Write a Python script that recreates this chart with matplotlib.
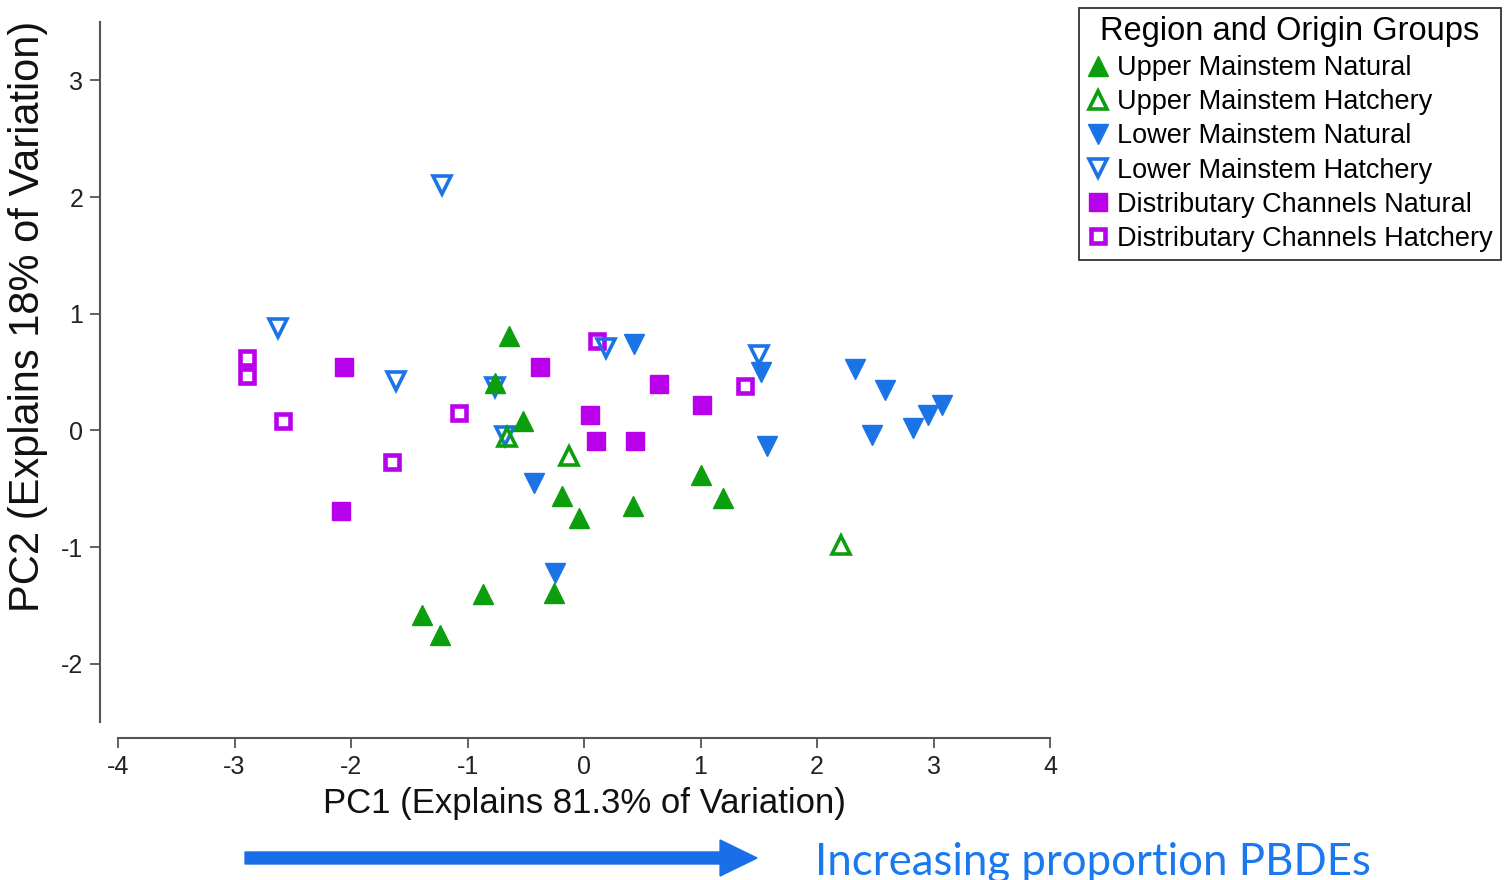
import matplotlib
matplotlib.use('Agg')
import matplotlib.pyplot as plt
from matplotlib.patches import FancyArrow

plt.rcParams['font.family'] = ['Liberation Sans', 'DejaVu Sans']
plt.rcParams['axes.unicode_minus'] = False

# PCA scores, one pair of lists per group
umn_x = [-0.64, -0.76, -0.52, -0.19, -0.04, 0.42, 1.00, 1.19, -1.39, -1.24, -0.87, -0.26]
umn_y = [0.81, 0.41, 0.08, -0.56, -0.75, -0.65, -0.38, -0.58, -1.58, -1.75, -1.40, -1.39]

umh_x = [-0.66, -0.13, 2.21]
umh_y = [-0.06, -0.22, -0.98]

lmn_x = [0.43, 1.52, 1.57, -0.43, -0.25, 2.33, 2.58, 2.47, 2.82, 2.95, 3.07]
lmn_y = [0.74, 0.50, -0.13, -0.45, -1.22, 0.53, 0.35, -0.04, 0.02, 0.13, 0.22]

lmh_x = [-1.22, -2.63, -1.61, -0.76, -0.68, 0.19, 1.50]
lmh_y = [2.10, 0.88, 0.42, 0.37, -0.05, 0.71, 0.65]

dcn_x = [-2.06, -0.38, 0.64, 1.01, 0.05, 0.10, 0.44, -2.09]
dcn_y = [0.54, 0.54, 0.40, 0.22, 0.13, -0.09, -0.09, -0.69]

dch_x = [-2.89, -2.89, -2.58, -1.07, -1.65, 0.11, 1.38]
dch_y = [0.62, 0.47, 0.08, 0.15, -0.27, 0.77, 0.38]

green = '#0c9e0c'
blue = '#1a74e6'
magenta = '#b800ea'

fig = plt.figure(figsize=(15.08, 8.8), dpi=100)
ax = fig.add_axes([0.0663, 0.1795, 0.630, 0.7955])

h_dch, = ax.plot(dch_x, dch_y, 's', ms=10.5, mfc='none', mec=magenta, mew=3.3, ls='none')
h_dcn, = ax.plot(dcn_x, dcn_y, 's', ms=13, mfc=magenta, mec=magenta, mew=1, ls='none')
h_lmh, = ax.plot(lmh_x, lmh_y, 'v', ms=13, mfc='none', mec=blue, mew=2.6, ls='none')
h_lmn, = ax.plot(lmn_x, lmn_y, 'v', ms=15, mfc=blue, mec=blue, mew=1, ls='none')
h_umh, = ax.plot(umh_x, umh_y, '^', ms=13, mfc='none', mec=green, mew=2.6, ls='none')
h_umn, = ax.plot(umn_x, umn_y, '^', ms=15, mfc=green, mec=green, mew=1, ls='none')

ax.set_xlim(-4.155, 4)
ax.set_ylim(-2.5, 3.5)
ax.set_xticks(range(-4, 5))
ax.set_yticks(range(-2, 4))

for s in ['top', 'right']:
    ax.spines[s].set_visible(False)
ax.spines['bottom'].set_position(('outward', 11.5))
ax.spines['bottom'].set_bounds(-4, 4)
for s in ['left', 'bottom']:
    ax.spines[s].set_color('#555555')
    ax.spines[s].set_linewidth(1.5)

ax.tick_params(axis='both', colors='#555555', labelcolor='#222222', width=1.3,
               length=7, labelsize=18)
ax.tick_params(axis='x', pad=5)
ax.tick_params(axis='y', pad=5)

ax.set_xlabel('PC1 (Explains 81.3% of Variation)', fontsize=25, color='#111111')
ax.set_ylabel('PC2 (Explains 18% of Variation)', fontsize=30, color='#111111')
ax.xaxis.set_label_coords(0.5095, -0.093)
ax.yaxis.set_label_coords(-0.055, 0.58)

leg = fig.legend([h_umn, h_umh, h_lmn, h_lmh, h_dcn, h_dch],
                 ['Upper Mainstem Natural', 'Upper Mainstem Hatchery',
                  'Lower Mainstem Natural', 'Lower Mainstem Hatchery',
                  'Distributary Channels Natural', 'Distributary Channels Hatchery'],
                 title='Region and Origin Groups', loc='upper left',
                 bbox_to_anchor=(0.7155, 0.991), fontsize=19.5, title_fontsize=23.5,
                 frameon=True, fancybox=False, handlelength=0.8, handletextpad=0.3,
                 labelspacing=0.3, borderpad=0.3, borderaxespad=0)
leg.get_frame().set_edgecolor('black')
leg.get_frame().set_linewidth(1.3)

# arrow and note below the axis
fig.add_artist(FancyArrow(0.1625, 0.025, 0.3395, 0, width=0.0136, head_width=0.041,
                          head_length=0.0245, length_includes_head=True,
                          color='#1a6ee8', transform=fig.transFigure))
fig.text(0.5405, 0.006, 'Increasing proportion PBDEs', fontsize=31.5, color='#1a78f0',
         family=['Lato', 'DejaVu Sans'], va='baseline', ha='left')

fig.savefig('out.png', dpi=100)
